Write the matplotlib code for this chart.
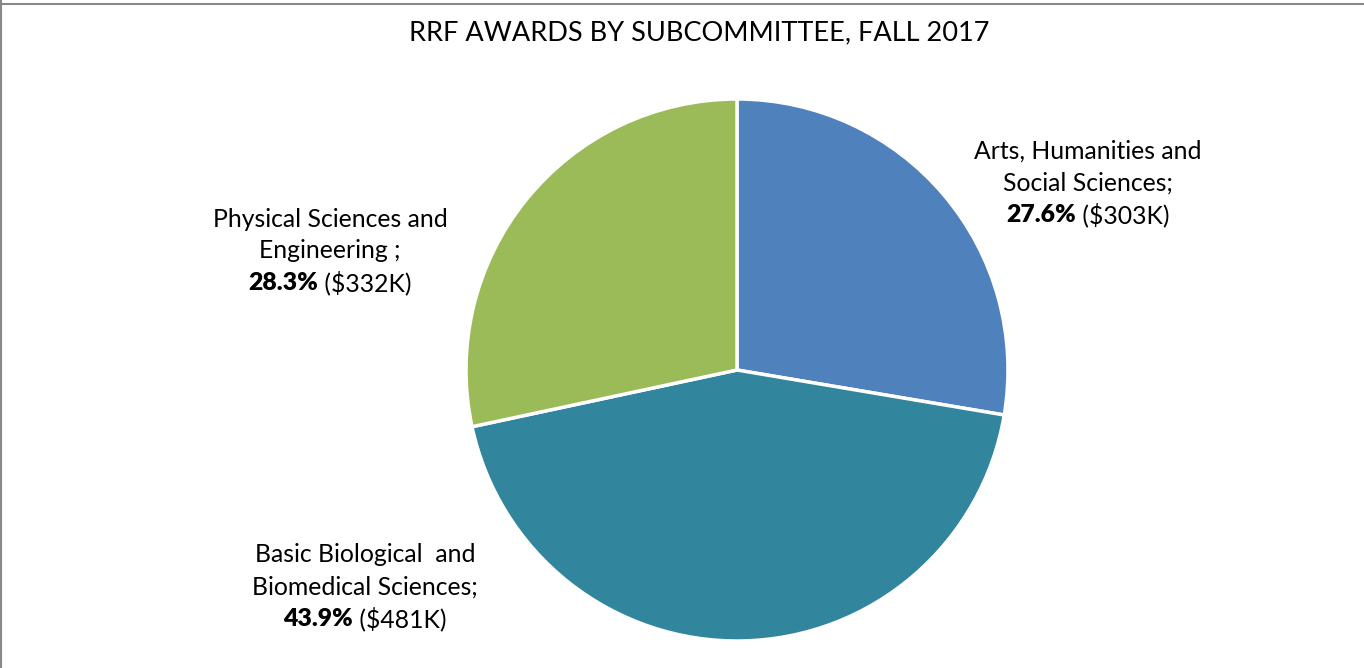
import matplotlib
matplotlib.use("Agg")
import matplotlib.pyplot as plt

plt.rcParams['font.family'] = ['Lato', 'DejaVu Sans']

# data
labels = ["Arts, Humanities and\nSocial Sciences;",
          "Basic Biological  and\nBiomedical Sciences;",
          "Physical Sciences and\nEngineering ;"]
shares = [27.6, 43.9, 28.3]
amounts = ["$303K", "$481K", "$332K"]
colors = ["#4F81BD", "#31859C", "#9BBB59"]

W, H = 1364, 668
fig = plt.figure(figsize=(W / 100, H / 100), dpi=100)

# pie axes: centre (737, 370) px, radius 271 px
cx, cy, r = 737, 370, 271
ax = fig.add_axes([(cx - r) / W, (H - cy - r) / H, 2 * r / W, 2 * r / H])
ax.pie(shares, colors=colors, startangle=90, counterclock=False,
       wedgeprops=dict(edgecolor="white", linewidth=2.5))
ax.set_xlim(-1, 1); ax.set_ylim(-1, 1)
ax.set_aspect("equal")
ax.axis("off")

fig.text(699 / W, 1 - 33 / H, "RRF AWARDS BY SUBCOMMITTEE, FALL 2017",
         ha="center", va="center", fontsize=19.5)

# label centres (px), first line y
label_pos = [(1088, 151), (365, 555), (330, 219)]
fs = 17.8
line = 32
fig.canvas.draw()
renderer = fig.canvas.get_renderer()
for lab, s, amt, (lx, ly) in zip(labels, shares, amounts, label_pos):
    for i, ln in enumerate(lab.split("\n")):
        fig.text(lx / W, 1 - (ly + i * line) / H, ln, ha="center", va="center",
                 fontsize=fs)
    y3 = 1 - (ly + 2 * line) / H
    t1 = fig.text(0, y3, f"{s}%", fontweight="heavy", fontsize=fs, va="center")
    t2 = fig.text(0, y3, f" ({amt})", fontsize=fs, va="center")
    w1 = t1.get_window_extent(renderer).width
    w2 = t2.get_window_extent(renderer).width
    x0 = lx - (w1 + w2) / 2
    t1.set_x(x0 / W)
    t2.set_x((x0 + w1) / W)

# frame lines on top and left edges
fig.add_artist(plt.Line2D([0, 1], [1 - 3.5 / H] * 2, color="#888888", lw=1.5))
fig.add_artist(plt.Line2D([1 / W] * 2, [0, 1], color="#888888", lw=1.5))

fig.savefig("out.png", dpi=100)
